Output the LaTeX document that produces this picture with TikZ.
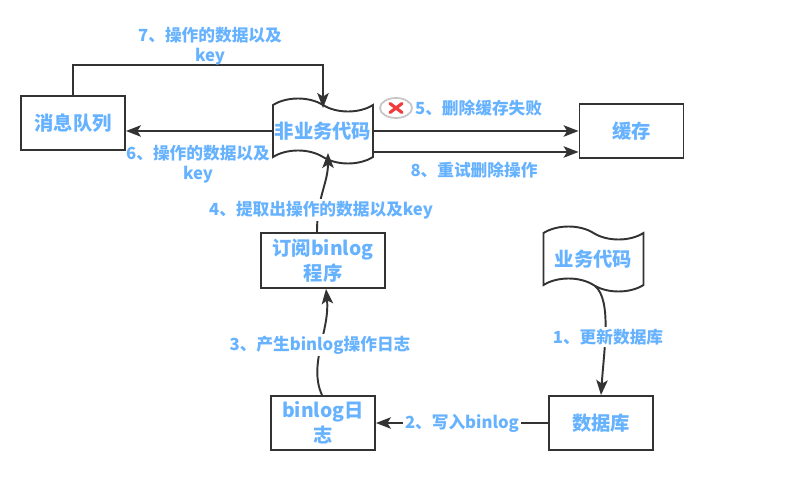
\documentclass[tikz,border=0pt]{standalone}
\usepackage{fontspec}
\setmainfont{Noto Sans CJK SC}
\usepackage{tikz}
\usetikzlibrary{arrows.meta,shapes.geometric,shapes.symbols}
\definecolor{bleu}{RGB}{102,178,255}
\definecolor{trait}{RGB}{51,51,51}
\definecolor{rouge}{RGB}{240,60,60}

\begin{document}
\begin{tikzpicture}[x=0.02cm, y=-0.02cm]
	\tikzset{boite/.style={rectangle, draw=trait, line width=1.1pt, minimum width=2.08cm, minimum height=1.08cm, inner sep=0pt, font=\fontsize{11}{14}\selectfont\bfseries, text=bleu, align=center},
		ruban/.style={tape, tape bend top=out and in, tape bend bottom=out and in, draw=trait, line width=1.1pt, fill=white, minimum width=2cm, minimum height=1.3cm, tape bend height=0.26cm, inner sep=0pt, font=\fontsize{11}{14}\selectfont\bfseries, text=bleu},
		fleche/.style={-{Stealth[length=8.5pt, width=6.5pt, inset=2pt]}, draw=trait, line width=1.1pt},
		etiquette/.style={font=\fontsize{9.5}{11.5}\selectfont\bfseries, text=bleu, align=center, inner sep=1pt}};

	\useasboundingbox (0,0) rectangle (786,479);

	\node[boite] (file) at (   73,  123) {消息队列};
	\node[ruban] (nonmetier) at (  323,  131) {非业务代码};
	\node[boite] (cache) at (631.5,  131) {缓存};
	\node[boite, minimum width=2.48cm, minimum height=1.1cm] (abo) at (323, 260.5) {订阅binlog\\程序};
	\node[boite] (journal) at (  323,  423) {binlog日\\志};
	\node[boite] (bdd) at (  601,  423) {数据库};
	\node[ruban] (metier) at (593.5,  259) {业务代码};

	\node[ellipse, draw=gray!45, line width=1pt, fill=white, minimum width=0.64cm, minimum height=0.4cm] (echec) at (396,108) {};
	\draw[rouge, line width=1.8pt, line cap=round] ([shift={(-6,-4.5)}]echec.center) -- ([shift={(6,4.5)}]echec.center);
	\draw[rouge, line width=1.8pt, line cap=round] ([shift={(-6,4.5)}]echec.center) -- ([shift={(6,-4.5)}]echec.center);

	\draw[fleche] (nonmetier.west) -- (file.east |- nonmetier.west);
	\draw[fleche] (nonmetier.east) -- (cache.west);
	\draw[fleche] ([yshift=-0.42cm]nonmetier.east) -- ([yshift=-0.42cm]cache.west);
	\draw[fleche] (file.north) -- ++(0,-30) -| ([yshift=-0.08cm]nonmetier.north);
	\draw[fleche] ([xshift=-0.12cm]abo.north) .. controls +(0,-35) and +(0,30) .. ([xshift=0.1cm, yshift=0.1cm]nonmetier.south);
	\draw[fleche] ([xshift=-0.02cm]journal.north) .. controls (308,365) and (330,330) .. ([xshift=0.06cm]abo.south);
	\draw[fleche] ([xshift=0.03cm]metier.south) .. controls (612,300) and (604,350) .. (bdd.north);
	\draw[fleche] (bdd) -- node[etiquette, fill=white] {2、写入binlog} (journal);

	\node[etiquette] (e7) at (210,46) {7、操作的数据以及\\key};
	\node[etiquette] (e6) at (198,164) {6、操作的数据以及\\key};
	\node[etiquette, anchor=west] (e5) at (413,108) {5、删除缓存失败};
	\node[etiquette] (e8) at (474,170) {8、重试删除操作};
	\node[etiquette, fill=white] (e4) at (321,210) {4、提取出操作的数据以及key};
	\node[etiquette, fill=white] (e3) at (320,345) {3、产生binlog操作日志};
	\node[etiquette, fill=white] (e1) at (608,337) {1、更新数据库};

\end{tikzpicture}
\end{document}
